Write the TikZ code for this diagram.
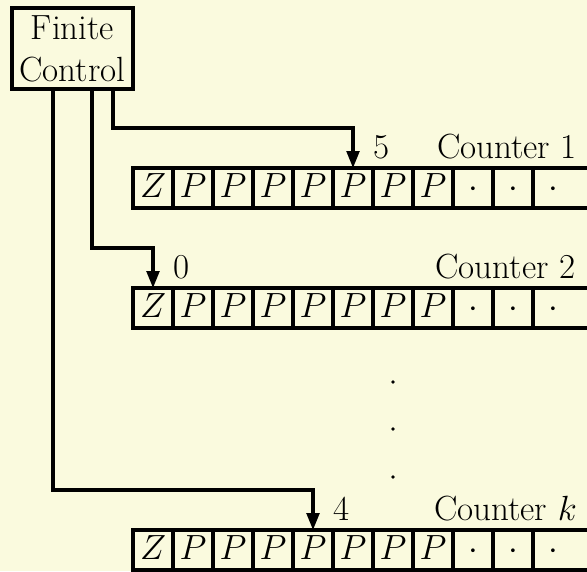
\documentclass[tikz,border=0pt]{standalone}
\usepackage{tikz}
\usetikzlibrary{arrows.meta,positioning}
\definecolor{paper}{RGB}{250,250,222}

\begin{document}
\begin{tikzpicture}[>={Triangle[length=12pt,width=9pt]}, line width=2.2pt,
  every node/.style={font=\Huge, outer sep=0pt},
  cell/.style={draw, minimum size=1cm, inner sep=0pt, text height=14pt, text depth=0pt},
  opencell/.style={cell, draw=none},
  headlabel/.style={anchor=base west, inner sep=0pt},
  namelabel/.style={anchor=base east, inner sep=0pt},
  dotmark/.style={circle, fill, inner sep=0pt, minimum size=2.8pt}]
  \fill[paper] (0,0) rectangle (14.675,-14.275);
  \useasboundingbox (0,0) rectangle (14.675,-14.275);
  \node[draw, minimum width=3.025cm, minimum height=2.025cm, align=center, inner sep=0pt]
    (ctrl) at (1.8125,-1.2125) {Finite\\Control};
  % the three tapes
  \foreach \t/\y in {a/-4.7, b/-7.7, k/-13.75} {
    \foreach \s [count=\j from 0] in {Z,P,P,P,P,P,P,P,\cdot,\cdot}
      \node[cell] (\t\j) at (3.825+\j,\y) {$\s$};
    \node[opencell] (\t10) at (13.825,\y) {$\cdot$};
    \draw (\t10.north west) -- ++(1.5,0) (\t10.south west) -- ++(1.5,0);
  }
  % heads
  \draw[->] ([xshift=2.525cm]ctrl.south west) |- ([yshift=1cm]a5.north) -- (a5.north);
  \draw[->] ([xshift=2cm]ctrl.south west) |- ([yshift=1cm]b0.north) -- (b0.north);
  \draw[->] ([xshift=1.025cm]ctrl.south west) |- ([yshift=1cm]k4.north) -- (k4.north);
  \node[headlabel] (na) at ([xshift=0.52cm,yshift=0.25cm]a5.north) {5};
  \node[headlabel] (nb) at ([xshift=0.52cm,yshift=0.25cm]b0.north) {0};
  \node[headlabel] (nk) at ([xshift=0.52cm,yshift=0.25cm]k4.north) {4};
  \node[namelabel] (ca) at (14.42,0 |- na.base) {Counter\hspace{0.3em}1};
  \node[namelabel] (cb) at (14.38,0 |- nb.base) {Counter\hspace{0.3em}2};
  \node[namelabel] (ck) at (14.42,0 |- nk.base) {Counter\hspace{0.3em}$k$};
  % vertical dots
  \node[dotmark] (d1) at (9.825,-9.55) {};
  \node[dotmark] (d2) at (9.825,-10.725) {};
  \node[dotmark] (d3) at (9.825,-11.925) {};
\end{tikzpicture}
\end{document}
